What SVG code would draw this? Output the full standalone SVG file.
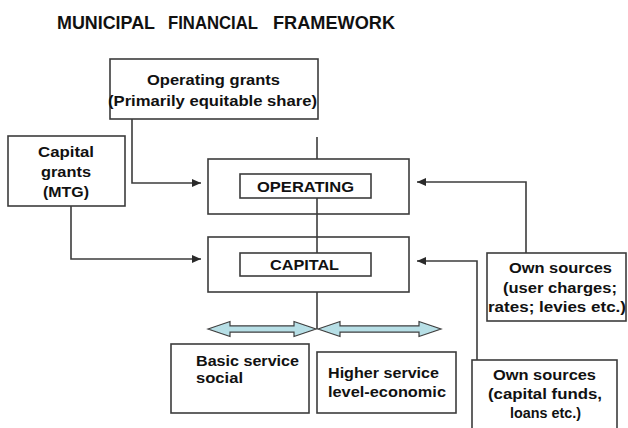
<svg xmlns="http://www.w3.org/2000/svg" width="628" height="428" viewBox="0 0 628 428">
<defs>
<style>
.bx{fill:#fff;stroke:#3c3c3c;stroke-width:1.6}
.ln{fill:none;stroke:#3c3c3c;stroke-width:1.6}
.t{font-family:"Liberation Sans",Arial,sans-serif;font-weight:bold;font-size:15px;fill:#111}
.ttl{font-family:"Liberation Sans",Arial,sans-serif;font-weight:bold;font-size:18px;fill:#111}
.dbl{fill:#b7dfe6;stroke:#404040;stroke-width:1.2;stroke-linejoin:miter}
</style>
<marker id="ah" markerWidth="10" markerHeight="8" refX="9" refY="4" orient="auto" markerUnits="userSpaceOnUse">
<path d="M0,0 L9,4 L0,8 Z" fill="#2a2a2a"/>
</marker>
</defs>
<rect width="628" height="428" fill="#fff"/>
<text class="ttl" y="29"><tspan x="57" textLength="98" lengthAdjust="spacingAndGlyphs">MUNICIPAL</tspan><tspan x="168" textLength="90" lengthAdjust="spacingAndGlyphs">FINANCIAL</tspan><tspan x="273" textLength="122" lengthAdjust="spacingAndGlyphs">FRAMEWORK</tspan></text>

<g id="connectors">
<line class="ln" x1="317" y1="137" x2="317" y2="159"/>
<path class="ln" d="M132,119 V183 H201" marker-end="url(#ah)"/>
<path class="ln" d="M71,206 V259 H201" marker-end="url(#ah)"/>
<path class="ln" d="M526,253 V182 H417" marker-end="url(#ah)"/>
<path class="ln" d="M477,360 V261 H417" marker-end="url(#ah)"/>
</g>

<g id="operating-grants">
<rect class="bx" x="110" y="59" width="208" height="60"/>
<text class="t" x="147" y="85" textLength="133" lengthAdjust="spacingAndGlyphs">Operating grants</text>
<text class="t" x="108" y="106" textLength="209" lengthAdjust="spacingAndGlyphs">(Primarily equitable share)</text>
</g>

<g id="capital-grants">
<rect class="bx" x="8" y="136" width="117" height="70"/>
<text class="t" x="38" y="157" textLength="56" lengthAdjust="spacingAndGlyphs">Capital</text>
<text class="t" x="41" y="177" textLength="50" lengthAdjust="spacingAndGlyphs">grants</text>
<text class="t" x="43" y="197" textLength="46" lengthAdjust="spacingAndGlyphs">(MTG)</text>
</g>

<g id="operating">
<rect class="bx" x="208" y="159" width="201" height="55"/>
<rect class="bx" x="240" y="174" width="131" height="24"/>
<text class="t" x="257" y="192" textLength="97" lengthAdjust="spacingAndGlyphs">OPERATING</text>
</g>

<g id="capital">
<rect class="bx" x="208" y="237" width="201" height="55"/>
<rect class="bx" x="240" y="253" width="131" height="23"/>
<text class="t" x="270" y="270" textLength="69" lengthAdjust="spacingAndGlyphs">CAPITAL</text>
</g>

<g id="spine">
<line class="ln" x1="317" y1="198" x2="317" y2="253"/>
<line class="ln" x1="317" y1="292" x2="317" y2="329"/>
</g>

<g id="service-arrows">
<polygon class="dbl" points="208,329 230,321.5 230,325.8 294,325.8 294,321.5 316,329 294,336.5 294,332.2 230,332.2 230,336.5"/>
<polygon class="dbl" points="318,329 340,321.5 340,325.8 419,325.8 419,321.5 441,329 419,336.5 419,332.2 340,332.2 340,336.5"/>
</g>

<g id="own-sources-operating">
<rect class="bx" x="487" y="253" width="139" height="68"/>
<text class="t" x="509" y="273" textLength="103" lengthAdjust="spacingAndGlyphs">Own sources</text>
<text class="t" x="503" y="293" textLength="114" lengthAdjust="spacingAndGlyphs">(user charges;</text>
<text class="t" x="488" y="312" textLength="138" lengthAdjust="spacingAndGlyphs">rates; levies etc.)</text>
</g>

<g id="basic-service">
<rect class="bx" x="171" y="344" width="138" height="69"/>
<text class="t" x="196" y="366" textLength="103" lengthAdjust="spacingAndGlyphs">Basic service</text>
<text class="t" x="196" y="383" textLength="47" lengthAdjust="spacingAndGlyphs">social</text>
</g>

<g id="higher-service">
<rect class="bx" x="317" y="352" width="139" height="61"/>
<text class="t" x="328" y="378" textLength="111" lengthAdjust="spacingAndGlyphs">Higher service</text>
<text class="t" x="328" y="397" textLength="118" lengthAdjust="spacingAndGlyphs">level-economic</text>
</g>

<g id="own-sources-capital">
<rect class="bx" x="472" y="360" width="145" height="72"/>
<text class="t" x="493" y="380" textLength="103" lengthAdjust="spacingAndGlyphs">Own sources</text>
<text class="t" x="488" y="399" textLength="114" lengthAdjust="spacingAndGlyphs">(capital funds,</text>
<text class="t" x="510" y="418" textLength="71" lengthAdjust="spacingAndGlyphs">loans etc.)</text>
</g>
</svg>
